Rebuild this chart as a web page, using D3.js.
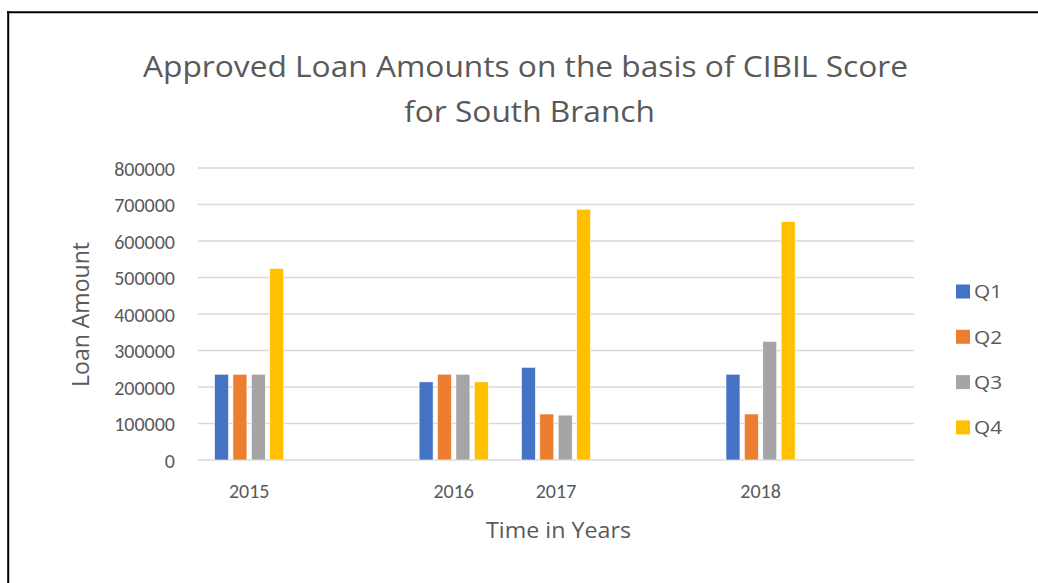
<!DOCTYPE html>
<html>
<head>
<meta charset="utf-8">
<script src="https://cdn.jsdelivr.net/npm/d3@7"></script>
<style>
  html, body { margin: 0; padding: 0; background: #fff; }
  svg { display: block; font-family: Carlito, Calibri, Lato, "Liberation Sans", sans-serif; }
</style>
</head>
<body>
<svg id="chart" width="1038" height="583"></svg>
<script>
// ---- data ----
const categories = ["2015", " ", "2016", "2017", "  ", "2018", "   "];
const seriesNames = ["Q1", "Q2", "Q3", "Q4"];
const seriesColors = ["#4472C4", "#ED7D31", "#A5A5A5", "#FFC000"];
const q1 = [235000, null, 214000, 254000, null, 235000, null];
const q2 = [235000, null, 235000, 126000, null, 126000, null];
const q3 = [235000, null, 235000, 123000, null, 325000, null];
const q4 = [525000, null, 214000, 687000, null, 653000, null];
const yTicks = [0, 100000, 200000, 300000, 400000, 500000, 600000, 700000, 800000];
const titleLines = ["Approved Loan Amounts on the basis of CIBIL Score", "for South Branch"];
const xTitle = "Time in Years";
const yTitle = "Loan Amount";

const seriesValues = [q1, q2, q3, q4];

const svg = d3.select("#chart");
const textColor = "#595959";
const tickFont = "Carlito, Calibri, Lato, sans-serif";
const titleFont = "'Open Sans', Lato, sans-serif";

// frame lines (top and left)
svg.append("line").attr("x1", 7).attr("x2", 1038).attr("y1", 12.2).attr("y2", 12.2)
  .attr("stroke", "#000").attr("stroke-width", 2);
svg.append("line").attr("x1", 8.2).attr("x2", 8.2).attr("y1", 11.2).attr("y2", 583)
  .attr("stroke", "#000").attr("stroke-width", 2);

const plot = { left: 198, right: 914, top: 168, bottom: 460 };

const x = d3.scaleBand().domain(categories).range([plot.left, plot.right]).padding(0);
const y = d3.scaleLinear().domain([0, 800000]).range([plot.bottom, plot.top]);

// gridlines
svg.append("g").selectAll("line").data(yTicks).join("line")
  .attr("x1", plot.left).attr("x2", plot.right)
  .attr("y1", d => y(d)).attr("y2", d => y(d))
  .attr("stroke", "#D9D9D9").attr("stroke-width", 1.6);

// y axis labels
const yAxis = d3.axisLeft(y).tickValues(yTicks).tickSize(0).tickPadding(0).tickFormat(d3.format("d"));
const yg = svg.append("g").attr("transform", `translate(${plot.left - 23},0)`).call(yAxis);
yg.select(".domain").remove();
yg.selectAll("text").attr("fill", textColor).style("font-size", "20px")
  .attr("font-family", tickFont).attr("dy", "0.36em");

// x axis labels
const xAxis = d3.axisBottom(x).tickSize(0).tickPadding(0);
const xg = svg.append("g").call(xAxis);
xg.select(".domain").remove();
xg.selectAll("text").attr("fill", textColor).style("font-size", "20px")
  .attr("font-family", tickFont).attr("y", 497.5).attr("dy", null);

// bars
const inner = d3.scaleBand().domain(seriesNames).range([0, x.bandwidth()]).paddingInner(0.24).paddingOuter(0.9);
seriesNames.forEach((s, si) => {
  const vals = seriesValues[si];
  svg.append("g").selectAll("rect")
    .data(categories.map((c, i) => ({ c, v: vals[i] })).filter(d => d.v != null))
    .join("rect")
    .attr("x", d => x(d.c) + inner(s))
    .attr("width", inner.bandwidth())
    .attr("y", d => y(d.v))
    .attr("height", d => y(0) - y(d.v))
    .attr("fill", seriesColors[si])
    .attr("stroke", "#fff").attr("stroke-width", 0.6);
});

// title
const titleWidths = [765, 251];
const titleCenters = [525.5, 529.5];
const title = svg.append("g").attr("fill", textColor).style("font-size", "30px")
  .attr("font-family", titleFont);
titleLines.forEach((t, i) => {
  title.append("text").attr("text-anchor", "middle")
    .attr("x", titleCenters[i]).attr("y", 77 + i * 44.5)
    .attr("textLength", titleWidths[i]).attr("lengthAdjust", "spacingAndGlyphs")
    .text(t);
});

// axis titles
svg.append("text").attr("x", 558.5).attr("y", 537.5).attr("text-anchor", "middle")
  .attr("font-family", titleFont)
  .attr("textLength", 145).attr("lengthAdjust", "spacingAndGlyphs")
  .attr("fill", textColor).style("font-size", "21px").text(xTitle);
svg.append("text").attr("transform", "translate(89.3,314.5) rotate(-90)").attr("text-anchor", "middle")
  .attr("font-family", titleFont)
  .attr("textLength", 145).attr("lengthAdjust", "spacingAndGlyphs")
  .attr("fill", textColor).style("font-size", "24px").text(yTitle);

// legend
const legend = svg.append("g");
seriesNames.forEach((s, i) => {
  const cy = 291.5 + i * 45.3;
  legend.append("rect").attr("x", 956).attr("y", cy - 7).attr("width", 14).attr("height", 14)
    .attr("fill", seriesColors[i]);
  legend.append("text").attr("x", 974).attr("y", cy).attr("dy", "0.36em")
    .attr("font-family", titleFont)
    .attr("textLength", 28).attr("lengthAdjust", "spacingAndGlyphs")
    .attr("fill", textColor).style("font-size", "19px").text(s);
});
</script>
</body>
</html>
